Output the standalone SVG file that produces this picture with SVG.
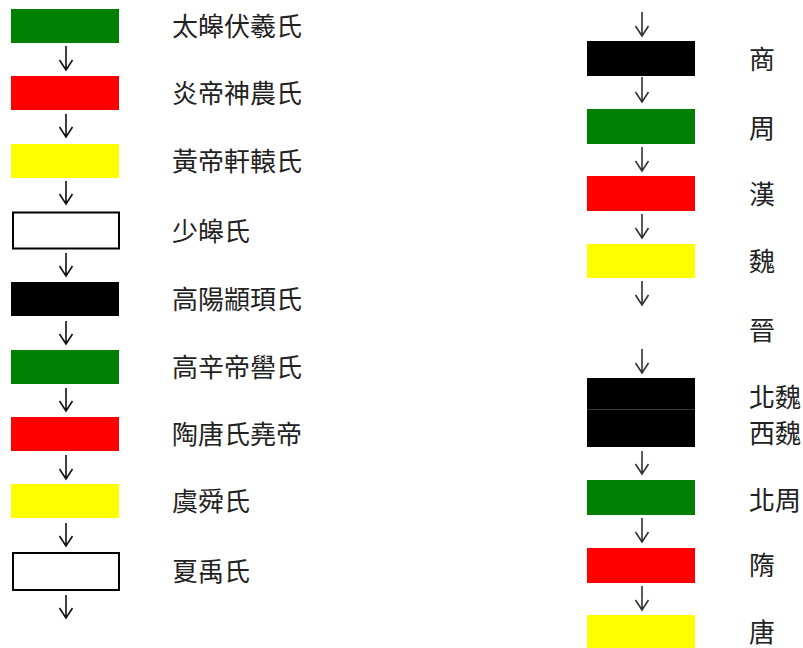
<svg xmlns="http://www.w3.org/2000/svg" width="803" height="648" viewBox="0 0 803 648">
<style>
.g{fill:#008000}.r{fill:#ff0000}.y{fill:#ffff00}.k{fill:#000}
.w{fill:#fff;stroke:#000;stroke-width:2}
.t{font-family:"Noto Sans CJK TC","Noto Sans CJK SC",sans-serif;font-size:26px;fill:#222}
.a{fill:none;stroke:#111;stroke-width:1.6}
.a2{fill:none;stroke:#333;stroke-width:1.6}
.sep{stroke:#444;stroke-width:0.8}
</style>
<rect width="803" height="648" fill="#fff"/>
<g id="connectors">
<path class="a" d="M66 46V70M59.5 60L66 70L72.5 60"/>
<path class="a" d="M66 114V137M59.5 127L66 137L72.5 127"/>
<path class="a" d="M66 181V204M59.5 194L66 204L72.5 194"/>
<path class="a" d="M66 253V276M59.5 266L66 276L72.5 266"/>
<path class="a" d="M66 321V344M59.5 334L66 344L72.5 334"/>
<path class="a" d="M66 388V411M59.5 401L66 411L72.5 401"/>
<path class="a" d="M66 455V479M59.5 469L66 479L72.5 469"/>
<path class="a" d="M66 523V546M59.5 536L66 546L72.5 536"/>
<path class="a" d="M66 595V618M59.5 608L66 618L72.5 608"/>
<path class="a2" d="M642 12V36M635.5 26L642 36L648.5 26"/>
<path class="a2" d="M642 77V102M635.5 92L642 102L648.5 92"/>
<path class="a2" d="M642 147V171M635.5 161L642 171L648.5 161"/>
<path class="a2" d="M642 214V238M635.5 228L642 238L648.5 228"/>
<path class="a2" d="M642 281V305M635.5 295L642 305L648.5 295"/>
<path class="a2" d="M642 349V373M635.5 363L642 373L648.5 363"/>
<path class="a2" d="M642 451V474M635.5 464L642 474L648.5 464"/>
<path class="a2" d="M642 518V542M635.5 532L642 542L648.5 532"/>
<path class="a2" d="M642 586V610M635.5 600L642 610L648.5 600"/>
</g>
<g id="n1"><rect class="g" x="11" y="9" width="108" height="34"/><text class="t" x="172" y="36">太皞伏羲氏</text></g>
<g id="n2"><rect class="r" x="11" y="76" width="108" height="34"/><text class="t" x="172" y="103">炎帝神農氏</text></g>
<g id="n3"><rect class="y" x="11" y="144" width="108" height="34"/><text class="t" x="172" y="171">黃帝軒轅氏</text></g>
<g id="n4"><rect class="w" x="13" y="212.5" width="106" height="36"/><text class="t" x="172" y="241">少皞氏</text></g>
<g id="n5"><rect class="k" x="11" y="282" width="108" height="34"/><text class="t" x="172" y="309">高陽顓頊氏</text></g>
<g id="n6"><rect class="g" x="11" y="350" width="108" height="34"/><text class="t" x="172" y="377">高辛帝嚳氏</text></g>
<g id="n7"><rect class="r" x="11" y="417" width="108" height="34"/><text class="t" x="172" y="444">陶唐氏堯帝</text></g>
<g id="n8"><rect class="y" x="11" y="484" width="108" height="34"/><text class="t" x="172" y="511">虞舜氏</text></g>
<g id="n9"><rect class="w" x="13" y="553" width="106" height="37"/><text class="t" x="172" y="581">夏禹氏</text></g>
<g id="n10"><rect class="k" x="587" y="41" width="108" height="35"/><text class="t" x="749" y="69">商</text></g>
<g id="n11"><rect class="g" x="587" y="109" width="108" height="35"/><text class="t" x="749" y="138">周</text></g>
<g id="n12"><rect class="r" x="587" y="176" width="108" height="35"/><text class="t" x="749" y="204">漢</text></g>
<g id="n13"><rect class="y" x="587" y="244" width="108" height="34"/><text class="t" x="749" y="271">魏</text></g>
<g id="n14"><text class="t" x="749" y="340">晉</text></g>
<g id="n15"><rect class="k" x="587" y="378" width="108" height="32"/><text class="t" x="749" y="407">北魏</text></g>
<g id="n16"><rect class="k" x="587" y="410" width="108" height="37"/><line class="sep" x1="587" y1="409.5" x2="695" y2="409.5"/><text class="t" x="749" y="443">西魏</text></g>
<g id="n17"><rect class="g" x="587" y="480" width="108" height="35"/><text class="t" x="749" y="510">北周</text></g>
<g id="n18"><rect class="r" x="587" y="548" width="108" height="35"/><text class="t" x="749" y="575">隋</text></g>
<g id="n19"><rect class="y" x="587" y="615" width="108" height="33"/><text class="t" x="749" y="642">唐</text></g>
</svg>
